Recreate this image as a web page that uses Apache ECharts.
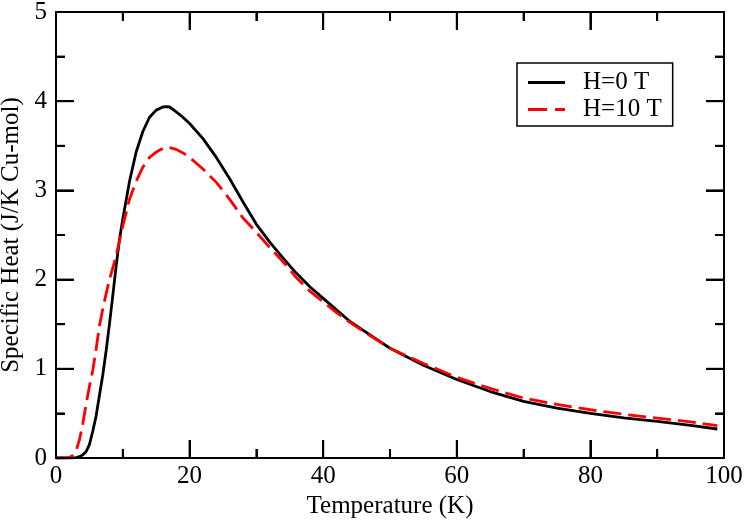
<!DOCTYPE html>
<html>
<head>
<meta charset="utf-8">
<script src="https://cdn.jsdelivr.net/npm/echarts@6/dist/echarts.min.js"></script>
</head>
<body style="margin:0;padding:0;background:#fff">
<div id="chart" style="width:747px;height:520px"></div>
<script>
// Temperature (K) and specific heat values
var tempH0 = [0, 1, 2, 2.5, 3, 3.5, 4, 4.5, 5, 5.5, 6, 6.5, 7, 7.5, 8, 8.5, 9, 9.5, 10, 11, 12, 13, 14, 15, 16, 16.5, 17, 18, 19, 20, 22, 24, 26, 28, 30, 32, 34, 36, 38, 40, 42, 44, 46, 50, 55, 60, 65, 70, 75, 80, 85, 90, 95, 99];
var heatH0 = [0, 0, 0, 0.001, 0.005, 0.015, 0.035, 0.07, 0.15, 0.3, 0.47, 0.7, 0.93, 1.2, 1.5, 1.82, 2.15, 2.45, 2.68, 3.1, 3.43, 3.66, 3.82, 3.9, 3.935, 3.94, 3.935, 3.88, 3.82, 3.75, 3.58, 3.37, 3.13, 2.87, 2.62, 2.42, 2.24, 2.07, 1.92, 1.79, 1.66, 1.53, 1.43, 1.23, 1.04, 0.88, 0.745, 0.635, 0.56, 0.5, 0.45, 0.41, 0.365, 0.325];
var tempH10 = [0, 1, 2, 2.5, 3, 3.5, 4, 4.5, 5, 5.5, 6, 6.5, 7, 7.5, 8, 8.5, 9, 9.5, 10, 11, 12, 13, 14, 15, 16, 17, 18, 19, 20, 22, 24, 26, 28, 30, 32, 34, 36, 38, 40, 42, 44, 46, 50, 55, 60, 65, 70, 75, 80, 85, 90, 95, 99];
var heatH10 = [0, 0, 0.005, 0.03, 0.08, 0.2, 0.38, 0.6, 0.8, 0.98, 1.22, 1.48, 1.67, 1.84, 2.0, 2.13, 2.27, 2.43, 2.6, 2.9, 3.1, 3.26, 3.37, 3.43, 3.47, 3.48, 3.46, 3.42, 3.37, 3.24, 3.09, 2.9, 2.69, 2.53, 2.36, 2.2, 2.02, 1.87, 1.75, 1.63, 1.52, 1.42, 1.23, 1.06, 0.905, 0.78, 0.672, 0.6, 0.541, 0.49, 0.448, 0.405, 0.362];
var seriesNames = ['H=0 T', 'H=10 T'];
var xTitle = 'Temperature (K)';
var yTitle = 'Specific Heat (J/K Cu-mol)';
// tick values (major / minor)
var xMajorTicks = [0, 20, 40, 60, 80, 100];
var xMinorTicks = [10, 30, 50, 70, 90];
var yMajorTicks = [0, 1, 2, 3, 4, 5];
var yMinorTicks = [0.5, 1.5, 2.5, 3.5, 4.5];
var X_MIN = 0, X_MAX = 100, Y_MIN = 0, Y_MAX = 5;

function pairs(xs, ys) { return xs.map(function (x, i) { return [x, ys[i]]; }); }

var FONT = 'Liberation Serif, Times New Roman, serif';
var GRID = { left: 56, right: 23, top: 12, bottom: 62 };
var W = 747, H = 520;
var MAJOR = 18, MINOR = 9;

function xAx(pos, showLabel) {
  return {
    type: 'value', position: pos, min: X_MIN, max: X_MAX, interval: 20, z: 10,
    axisLine: { show: true, onZero: false, lineStyle: { color: '#000', width: 2 } },
    axisTick: { show: true, inside: true, length: MAJOR, lineStyle: { color: '#000', width: 2 } },
    minorTick: { show: true, splitNumber: 2, length: MINOR, lineStyle: { color: '#000', width: 2 } },
    splitLine: { show: false },
    axisLabel: { show: showLabel, color: '#000', fontFamily: FONT, fontSize: 25, margin: 6 },
    name: showLabel ? xTitle : '', nameLocation: 'middle', nameGap: 31,
    nameTextStyle: { color: '#000', fontFamily: FONT, fontSize: 25 }
  };
}
function yAx(pos, showLabel) {
  return {
    type: 'value', position: pos, min: Y_MIN, max: Y_MAX, interval: 1, z: 10,
    axisLine: { show: true, onZero: false, lineStyle: { color: '#000', width: 2 } },
    axisTick: { show: true, inside: true, length: MAJOR, lineStyle: { color: '#000', width: 2 } },
    minorTick: { show: true, splitNumber: 2, length: MINOR, lineStyle: { color: '#000', width: 2 } },
    splitLine: { show: false },
    axisLabel: { show: showLabel, color: '#000', fontFamily: FONT, fontSize: 25, margin: 9 },
    name: showLabel ? yTitle : '', nameLocation: 'middle', nameGap: 28,
    nameTextStyle: { color: '#000', fontFamily: FONT, fontSize: 25 }
  };
}

// tick marks through the cartesian scales (kind: 0 x-major, 1 x-minor, 2 y-major, 3 y-minor)
var tickData = []
  .concat(xMajorTicks.map(function (v) { return [v, 0]; }))
  .concat(xMinorTicks.map(function (v) { return [v, 1]; }))
  .concat(yMajorTicks.map(function (v) { return [v, 2]; }))
  .concat(yMinorTicks.map(function (v) { return [v, 3]; }));

function renderTick(params, api) {
  var v = api.value(0), k = api.value(1);
  var len = (k === 0 || k === 2) ? MAJOR : MINOR;
  var st = { stroke: '#000', lineWidth: 2, fill: null };
  var c = [];
  if (k < 2) {
    var b = api.coord([v, Y_MIN]), t = api.coord([v, Y_MAX]);
    c.push({ type: 'polyline', shape: { points: [[b[0], b[1]], [b[0], b[1] - len]] }, style: st });
    c.push({ type: 'polyline', shape: { points: [[t[0], t[1]], [t[0], t[1] + len]] }, style: st });
  } else {
    var l = api.coord([X_MIN, v]), r = api.coord([X_MAX, v]);
    c.push({ type: 'polyline', shape: { points: [[l[0], l[1]], [l[0] + len, l[1]]] }, style: st });
    c.push({ type: 'polyline', shape: { points: [[r[0], r[1]], [r[0] - len, r[1]]] }, style: st });
  }
  return { type: 'group', children: c };
}

var chart = echarts.init(document.getElementById('chart'), null, { renderer: 'canvas' });
chart.setOption({
  animation: false,
  backgroundColor: '#fff',
  title: { text: '', show: true },
  grid: { left: GRID.left, right: GRID.right, top: GRID.top, bottom: GRID.bottom, containLabel: false, outerBoundsMode: 'none' },
  xAxis: [xAx('bottom', true), xAx('top', false)],
  yAxis: [yAx('left', true), yAx('right', false)],
  legend: {
    orient: 'vertical', left: 517, top: 63,
    padding: [7, 11, 4, 11], itemGap: 2,
    itemWidth: 37, itemHeight: 3,
    borderColor: '#000', borderWidth: 1.5, backgroundColor: '#fff',
    textStyle: { color: '#000', fontFamily: FONT, fontSize: 25, lineHeight: 25, padding: [0, 0, 0, 13] },
    data: [
      { name: seriesNames[0], icon: 'path://M0,0H37V3H0Z' },
      { name: seriesNames[1], icon: 'path://M0,0H19V3H0ZM27,0H37V3H27Z' }
    ]
  },
  series: [
    {
      name: seriesNames[0], type: 'line', xAxisIndex: 0, yAxisIndex: 0,
      data: pairs(tempH0, heatH0), showSymbol: false, symbol: 'none',
      smooth: false, z: 3,
      lineStyle: { color: '#000', width: 2.8, type: 'solid' },
      itemStyle: { color: '#000' }
    },
    {
      name: seriesNames[1], type: 'line', xAxisIndex: 0, yAxisIndex: 0,
      data: pairs(tempH10, heatH10), showSymbol: false, symbol: 'none',
      smooth: false, z: 4,
      lineStyle: { color: '#ff0000', width: 2.8, type: [18, 7] },
      itemStyle: { color: '#ff0000' }
    },
    {
      type: 'custom', coordinateSystem: 'cartesian2d', xAxisIndex: 0, yAxisIndex: 0,
      data: tickData, renderItem: renderTick, silent: true, clip: false, z: 10
    }
  ]
});
</script>
</body>
</html>
